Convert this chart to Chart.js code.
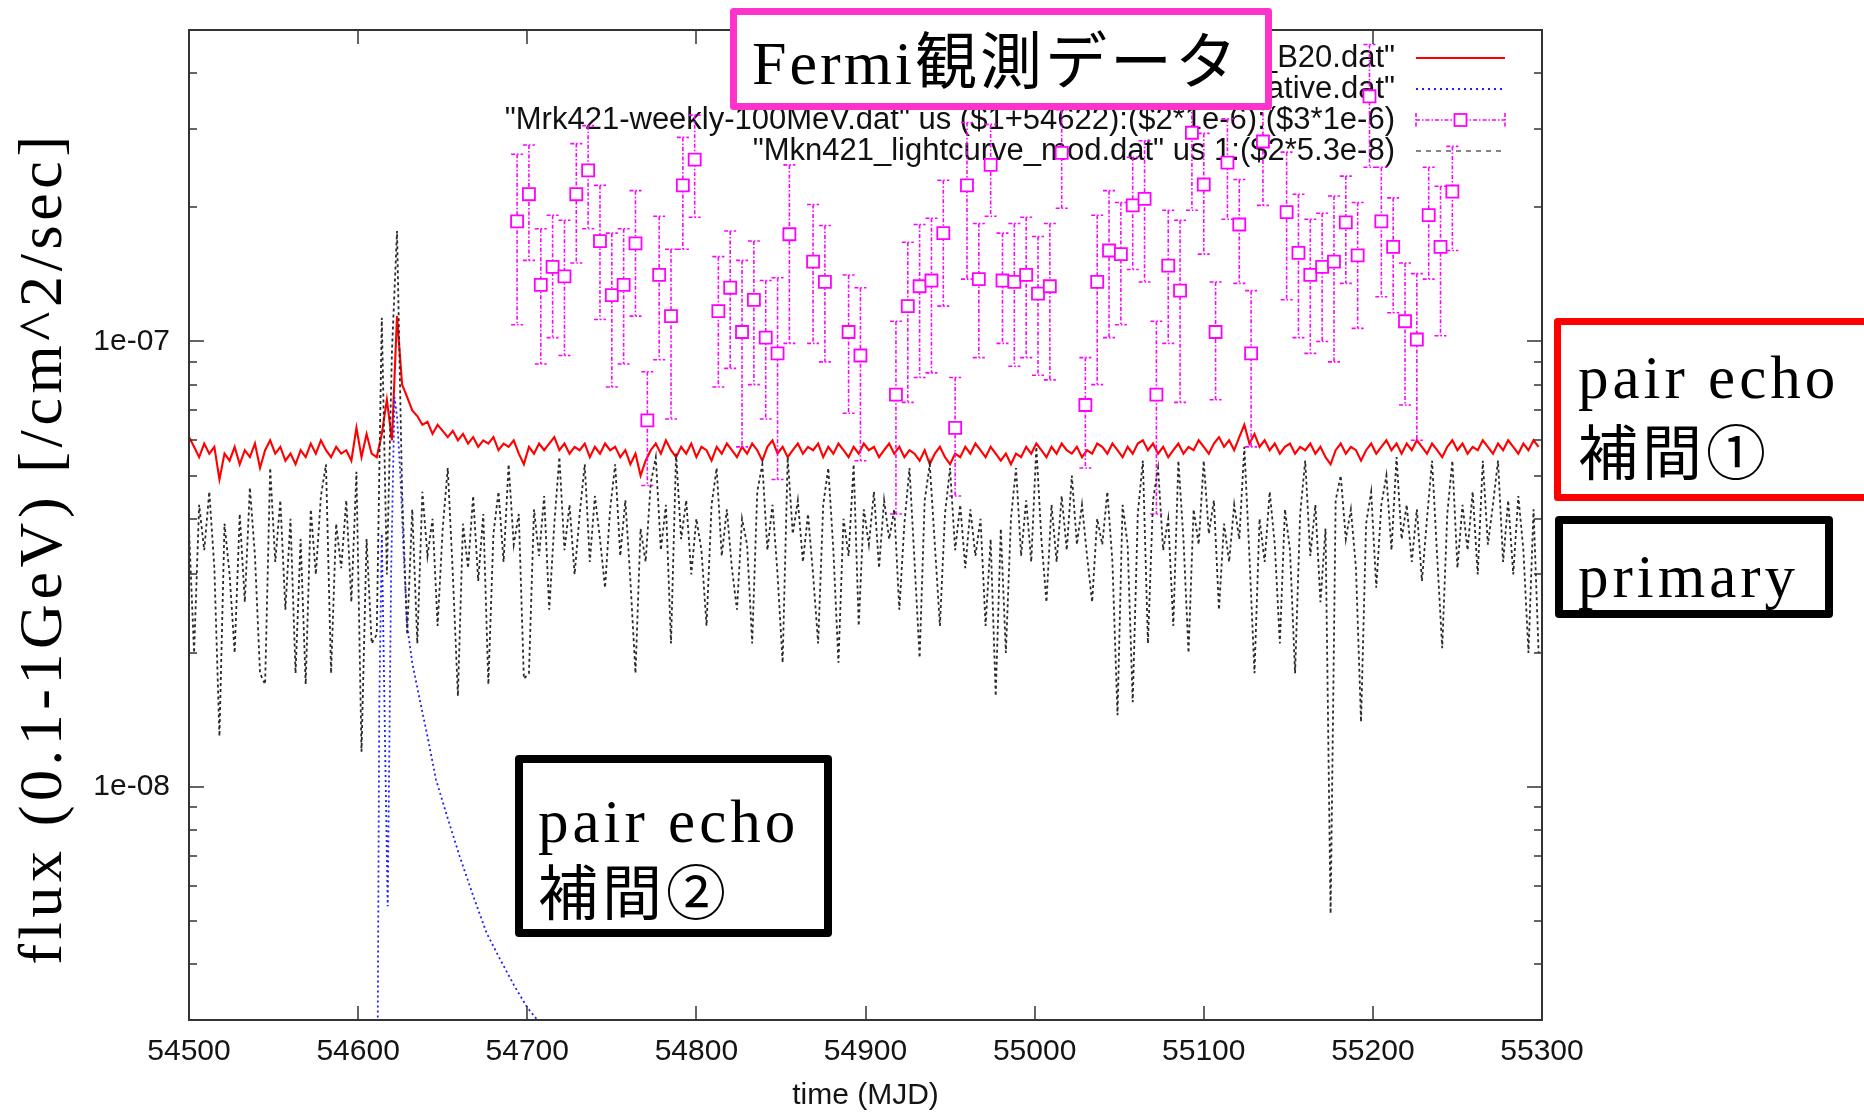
<!DOCTYPE html>
<html>
<head>
<meta charset="utf-8">
<script src="https://cdn.jsdelivr.net/npm/chart.js@4.4.1/dist/chart.umd.min.js"></script>
<style>
  html, body { margin: 0; padding: 0; background: #fff; overflow: hidden; }
  canvas { display: block; }
</style>
</head>
<body>
<canvas id="chart" width="1864" height="1116"></canvas>
<script>
// light curves below are sampled every 3 days from MJD 54500
var dayStart = 54500;
var dayStep = 3;

// Mkn421 light curve (primary), units of 1e-8 /cm^2/sec
var primaryFlux = [
  3.8, 2.0, 4.3, 3.4, 4.6, 3.1, 1.3, 3.9, 3.0, 2.0,
  4.1, 2.6, 4.7, 3.3, 1.8, 1.7, 5.2, 3.2, 4.4, 2.5,
  4.0, 1.8, 3.6, 1.7, 4.2, 3.0, 4.5, 5.3, 1.8, 3.9,
  3.1, 4.4, 2.6, 5.1, 1.2, 3.6, 2.1, 2.2, 11.3, 3.0,
  9.5, 17.7, 4.6, 2.2, 4.2, 2.1, 4.6, 3.3, 4.0, 2.3,
  3.8, 5.2, 3.0, 1.6, 3.9, 3.1, 4.5, 2.9, 4.1, 1.7,
  3.7, 4.6, 3.2, 5.3, 3.5, 4.1, 1.75, 1.8, 4.2, 3.3,
  4.5, 2.5, 3.9, 5.5, 3.4, 4.3, 3.0, 4.1, 5.3, 3.2,
  4.5, 3.6, 2.8, 4.2, 5.3, 3.3, 4.4, 2.9, 1.8, 3.8,
  3.2, 4.8, 5.5, 3.4, 4.3, 2.1, 5.6, 3.6, 4.4, 3.0,
  4.0, 3.4, 2.3, 4.3, 5.2, 3.3, 4.2, 3.1, 2.5, 4.0,
  3.5, 2.1, 4.6, 5.3, 3.4, 4.3, 3.0, 1.9, 5.5, 3.7,
  4.4, 3.2, 4.1, 3.0, 2.1, 4.3, 5.2, 3.4, 1.9, 4.0,
  3.3, 5.3, 2.3, 4.2, 3.5, 4.6, 3.1, 4.4, 3.6, 4.2,
  2.5, 3.9, 5.2, 3.2, 1.95, 4.4, 5.3, 3.5, 2.3, 4.1,
  5.2, 3.4, 4.3, 3.1, 4.2, 3.3, 4.0, 2.3, 3.6, 1.6,
  3.8, 2.0, 4.0, 5.2, 3.3, 4.4, 3.2, 5.8, 3.6, 2.6,
  4.3, 3.2, 4.5, 3.4, 5.0, 3.5, 4.3, 3.3, 2.6, 4.0,
  3.5, 4.6, 3.2, 1.45, 4.3, 3.5, 1.55, 4.1, 5.4, 2.1,
  4.4, 5.2, 3.4, 4.0, 2.3, 5.4, 3.6, 2.0, 4.2, 3.5,
  5.4, 3.7, 4.4, 2.5, 3.9, 3.2, 4.3, 3.6, 5.8, 3.3,
  1.8, 4.0, 3.2, 4.6, 3.5, 2.1, 4.2, 3.4, 1.8, 4.1,
  5.4, 3.3, 4.3, 2.6, 3.8, 0.52, 4.4, 5.0, 3.6, 4.2,
  3.1, 1.4, 3.9, 4.6, 2.8, 4.3, 5.0, 3.4, 5.5, 3.6,
  4.3, 3.2, 4.2, 2.9, 4.0, 5.4, 3.3, 2.05, 4.1, 5.4,
  3.1, 4.3, 3.4, 4.6, 3.0, 5.4, 3.5, 4.3, 5.4, 3.2,
  4.4, 3.0, 4.5, 3.4, 2.0, 4.2, 2.0
];

// pair echo, interpolation 1, units of 1e-8
var echo1Flux = [
  6.1, 5.8, 5.5, 5.9, 5.6, 5.8, 4.9, 5.6, 5.4, 5.8,
  5.3, 5.7, 5.5, 5.9, 5.2, 5.7, 6.0, 5.6, 5.8, 5.4,
  5.6, 5.3, 5.7, 5.5, 5.9, 5.6, 6.0, 5.7, 5.5, 5.8,
  5.6, 5.7, 5.4, 6.4, 5.5, 6.2, 5.6, 5.5, 6.2, 7.4,
  6.0, 11.4, 8.0, 7.5, 7.0, 6.8, 6.5, 6.6, 6.2, 6.5,
  6.3, 6.1, 6.3, 6.0, 6.2, 5.9, 6.1, 5.8, 6.0, 5.9,
  6.1, 5.7, 5.9, 5.8, 6.0, 5.6, 5.3, 5.8, 5.6, 5.9,
  5.7, 5.9, 6.1, 5.7, 5.9, 5.6, 5.8, 5.7, 5.9, 5.5,
  5.8, 5.6, 5.9, 5.7, 5.8, 5.5, 5.7, 5.3, 5.6, 5.0,
  5.4, 5.7, 5.9, 5.6, 6.0, 5.7, 5.5, 5.8, 5.6, 5.9,
  5.5, 5.8, 5.7, 5.4, 5.8, 5.6, 5.9, 5.7, 5.5, 5.8,
  5.6, 5.9, 5.7, 5.4, 5.8, 6.0, 5.6, 5.8, 5.5, 5.7,
  5.9, 5.6, 5.8, 5.7, 5.9, 5.5, 5.8, 5.6, 5.9, 5.7,
  5.5, 5.8, 5.6, 5.9, 5.7, 5.8, 5.5, 5.7, 5.9, 5.6,
  5.8, 5.5, 5.7, 5.6, 5.4, 5.7, 5.3, 5.6, 5.8, 5.5,
  5.3, 5.6, 5.5, 5.8, 5.6, 5.9, 5.7, 5.5, 5.8, 5.6,
  5.4, 5.6, 5.3, 5.6, 5.5, 5.8, 5.6, 5.9, 5.7, 5.5,
  5.8, 5.6, 5.9, 5.7, 5.6, 5.8, 5.5, 5.7, 5.6, 5.9,
  5.8, 5.6, 5.9, 5.7, 5.5, 5.8, 5.6, 5.9, 6.0, 5.7,
  5.9, 5.6, 5.8, 5.5, 5.7, 5.9, 5.6, 5.8, 5.7, 6.0,
  5.8, 5.6, 5.9, 6.1, 5.8, 6.0, 5.7, 6.1, 6.5, 5.9,
  6.2, 5.8, 6.0, 5.7, 5.9, 5.6, 5.8, 5.9, 5.6, 5.8,
  5.7, 5.9, 5.6, 5.8, 5.5, 5.3, 5.7, 5.9, 5.6, 5.8,
  5.7, 5.4, 5.7, 5.9, 5.6, 5.8, 6.0, 5.7, 5.9, 5.6,
  5.9, 5.7, 6.0, 5.8, 5.6, 5.9, 5.7, 5.5, 5.8, 6.0,
  5.7, 5.9, 5.6, 5.8, 5.7, 6.0, 5.8, 5.6, 5.9, 5.7,
  6.0, 5.8, 5.6, 5.9, 5.7, 6.0, 5.8
];

// pair echo, interpolation 2, units of 1e-8
var echo2Days = [54611, 54612.5, 54614, 54616, 54617.5, 54619.5, 54621.5, 54623, 54625, 54627,
                 54629, 54632, 54636, 54641, 54646, 54653, 54660, 54668, 54676, 54684,
                 54692, 54700, 54706, 54712];
var echo2Flux = [0.1, 1.5, 3.7, 1.2, 0.54, 3.0, 7.5, 6.8, 5.0, 3.3,
                 2.3, 1.9, 1.6, 1.3, 1.04, 0.85, 0.70, 0.57, 0.47, 0.41,
                 0.36, 0.32, 0.30, 0.27];

// Fermi weekly fluxes above 100 MeV, units of 1e-7
var fermiDays = [
  54694, 54701, 54708, 54715, 54722, 54729, 54736, 54743, 54750, 54757, 54764, 54771, 54778, 54785, 54792, 54799,
  54813, 54820, 54827, 54834, 54841, 54848, 54855,
  54869, 54876,
  54890, 54897,
  54918, 54925, 54932, 54939, 54946, 54953, 54960, 54967, 54974, 54981, 54988, 54995, 55002, 55009, 55016,
  55030, 55037, 55044, 55051, 55058, 55065, 55072, 55079, 55086, 55093, 55100, 55107, 55114, 55121, 55128, 55135,
  55149, 55156, 55163, 55170, 55177, 55184, 55191, 55198, 55205, 55212, 55219, 55226, 55233, 55240, 55247
];
var fermiFlux = [
  1.86, 2.14, 1.34, 1.47, 1.40, 2.14, 2.42, 1.68, 1.27, 1.34, 1.66, 0.665, 1.41, 1.14, 2.24, 2.56,
  1.17, 1.32, 1.05, 1.24, 1.02, 0.94, 1.74,
  1.51, 1.36,
  1.05, 0.93,
  0.76, 1.20, 1.33, 1.37, 1.75, 0.64, 2.24, 1.38, 2.49, 1.37, 1.36, 1.41, 1.28, 1.33, 2.65,
  0.72, 1.36, 1.60, 1.57, 2.02, 2.09, 0.76, 1.48, 1.30, 2.94, 2.25, 1.05, 2.52, 1.83, 0.94, 2.81,
  1.95, 1.58, 1.41, 1.47, 1.51, 1.85, 1.56, 3.55, 1.86, 1.63, 1.11, 1.01, 1.92, 1.63, 2.17
];
var fermiErr = [
  0.77, 0.62, 0.45, 0.45, 0.47, 0.64, 0.63, 0.56, 0.48, 0.45, 0.52, 0.19, 0.50, 0.47, 0.63, 0.66,
  0.38, 0.45, 0.47, 0.44, 0.35, 0.45, 0.75,
  0.52, 0.46,
  0.36, 0.39,
  0.35, 0.47, 0.50, 0.52, 0.55, 0.19, 0.86, 0.46, 0.58, 0.38, 0.48, 0.49, 0.44, 0.51, 0.66,
  0.20, 0.56, 0.58, 0.48, 0.57, 0.73, 0.35, 0.49, 0.57, 0.97, 0.68, 0.31, 0.64, 0.48, 0.36, 0.79,
  0.71, 0.56, 0.47, 0.47, 0.61, 0.50, 0.49, 1.09, 0.60, 0.47, 0.39, 0.41, 0.54, 0.60, 0.57
];

var xTicks = [54500, 54600, 54700, 54800, 54900, 55000, 55100, 55200, 55300];
var yTicks = [1e-8, 1e-7];
var yTickLabels = ['1e-08', '1e-07'];

var legendLabels = [
  '_B20.dat"',
  'ative.dat"',
  '"Mrk421-weekly-100MeV.dat" us ($1+54622):($2*1e-6):($3*1e-6)',
  '"Mkn421_lightcurve_mod.dat" us 1:($2*5.3e-8)'
];

var tickFont = '30px "Liberation Sans", Arial, sans-serif';
var keyFont = '31px "Liberation Sans", Arial, sans-serif';
var serifFont = '"Liberation Serif", "Noto Sans CJK JP", serif';

function gridSeries(values) {
  var pts = [];
  for (var i = 0; i < values.length; i++) {
    pts.push({x: dayStart + i * dayStep, y: values[i] * 1e-8});
  }
  return pts;
}

var echo2Points = echo2Days.map(function(d, i) { return {x: d, y: echo2Flux[i] * 1e-8}; });
var fermiPoints = fermiDays.map(function(d, i) { return {x: d, y: fermiFlux[i] * 1e-7}; });

// magenta error bars, drawn just before the fermi squares
var errorBars = {
  id: 'errorBars',
  beforeDatasetDraw: function(chart, args) {
    if (args.index !== 2) return;
    var ctx = chart.ctx, xs = chart.scales.x, ys = chart.scales.y;
    ctx.save();
    ctx.strokeStyle = '#ff00ff';
    ctx.lineWidth = 1.6;
    ctx.setLineDash([4, 2, 1.5, 2]);
    ctx.beginPath();
    for (var i = 0; i < fermiDays.length; i++) {
      var px = xs.getPixelForValue(fermiDays[i]);
      var top = ys.getPixelForValue((fermiFlux[i] + fermiErr[i]) * 1e-7);
      var bot = ys.getPixelForValue((fermiFlux[i] - fermiErr[i]) * 1e-7);
      ctx.moveTo(px, top); ctx.lineTo(px, bot);
      ctx.moveTo(px - 6, top); ctx.lineTo(px + 6, top);
      ctx.moveTo(px - 6, bot); ctx.lineTo(px + 6, bot);
    }
    ctx.stroke();
    ctx.restore();
  }
};

// gnuplot style key in the upper right corner
var gnuKey = {
  id: 'gnuKey',
  beforeDatasetsDraw: function(chart) {
    var ctx = chart.ctx;
    var rows = [58, 89, 120, 151];
    var textRight = 1395, s0 = 1416, s1 = 1505;
    ctx.save();
    ctx.font = keyFont;
    ctx.fillStyle = '#111';
    ctx.textAlign = 'right';
    ctx.textBaseline = 'middle';
    legendLabels.forEach(function(t, i) { ctx.fillText(t, textRight, rows[i]); });

    ctx.lineWidth = 2;
    ctx.strokeStyle = '#ff0000';
    ctx.beginPath(); ctx.moveTo(s0, rows[0]); ctx.lineTo(s1, rows[0]); ctx.stroke();

    ctx.strokeStyle = '#1e1eff';
    ctx.setLineDash([2, 4]);
    ctx.beginPath(); ctx.moveTo(s0, rows[1]); ctx.lineTo(s1, rows[1]); ctx.stroke();

    ctx.strokeStyle = '#ff00ff';
    ctx.lineWidth = 1.6;
    ctx.setLineDash([4, 2, 1.5, 2]);
    ctx.beginPath();
    ctx.moveTo(s0, rows[2]); ctx.lineTo(s1, rows[2]);
    ctx.moveTo(s0, rows[2] - 7); ctx.lineTo(s0, rows[2] + 7);
    ctx.moveTo(s1, rows[2] - 7); ctx.lineTo(s1, rows[2] + 7);
    ctx.stroke();
    ctx.setLineDash([]);
    ctx.fillStyle = '#fff';
    ctx.lineWidth = 1.8;
    var mx = (s0 + s1) / 2;
    ctx.fillRect(mx - 6, rows[2] - 6, 12, 12);
    ctx.strokeRect(mx - 6, rows[2] - 6, 12, 12);

    ctx.strokeStyle = '#777';
    ctx.lineWidth = 1.8;
    ctx.setLineDash([5, 5]);
    ctx.beginPath(); ctx.moveTo(s0, rows[3]); ctx.lineTo(s1, rows[3]); ctx.stroke();
    ctx.restore();
  }
};

// border, inward tics, tic labels and axis titles
var gnuFrame = {
  id: 'gnuFrame',
  afterDatasetsDraw: function(chart) {
    var ctx = chart.ctx, a = chart.chartArea, xs = chart.scales.x, ys = chart.scales.y;
    ctx.save();
    ctx.strokeStyle = '#333';
    ctx.lineWidth = 1.5;
    ctx.beginPath();
    xTicks.forEach(function(t) {
      var px = Math.round(xs.getPixelForValue(t));
      ctx.moveTo(px, a.bottom); ctx.lineTo(px, a.bottom - 14);
      ctx.moveTo(px, a.top); ctx.lineTo(px, a.top + 14);
    });
    for (var e = -9; e <= -7; e++) {
      for (var m = 1; m <= 9; m++) {
        var v = m * Math.pow(10, e);
        if (v < ys.min * 1.0001 || v > ys.max * 0.9999) continue;
        var py = Math.round(ys.getPixelForValue(v));
        var len = m === 1 ? 15 : 8;
        ctx.moveTo(a.left, py); ctx.lineTo(a.left + len, py);
        ctx.moveTo(a.right, py); ctx.lineTo(a.right - len, py);
      }
    }
    ctx.stroke();
    ctx.lineWidth = 2;
    ctx.strokeRect(a.left, a.top, a.right - a.left, a.bottom - a.top);

    ctx.fillStyle = '#141414';
    ctx.font = tickFont;
    ctx.textBaseline = 'middle';
    ctx.textAlign = 'center';
    xTicks.forEach(function(t) {
      ctx.fillText(String(t), xs.getPixelForValue(t), a.bottom + 32);
    });
    ctx.textAlign = 'right';
    yTicks.forEach(function(t, i) {
      ctx.fillText(yTickLabels[i], a.left - 19, ys.getPixelForValue(t));
    });
    ctx.textAlign = 'center';
    ctx.fillText('time (MJD)', (a.left + a.right) / 2, 1096);

    ctx.fillStyle = '#000';
    ctx.translate(45, 548);
    ctx.rotate(-Math.PI / 2);
    ctx.font = '62px ' + serifFont;
    ctx.letterSpacing = '4.6px';
    ctx.fillText('flux (0.1-1GeV) [/cm^2/sec]', 0, 0);
    ctx.restore();
  }
};

// framed notes laid over the plot
function noteBox(ctx, l, t, r, b, w, color) {
  ctx.fillStyle = '#fff';
  ctx.fillRect(l, t, r - l, b - t);
  ctx.lineWidth = w;
  ctx.lineJoin = 'round';
  ctx.strokeStyle = color;
  ctx.strokeRect(l + w / 2, t + w / 2, r - l - w, b - t - w);
}

var notes = {
  id: 'notes',
  afterDraw: function(chart) {
    var ctx = chart.ctx;
    ctx.save();
    ctx.textAlign = 'left';
    ctx.textBaseline = 'alphabetic';

    noteBox(ctx, 730, 8, 1272, 110, 7, '#ff33cc');
    ctx.fillStyle = '#000';
    ctx.font = '62px ' + serifFont;
    ctx.letterSpacing = '3px';
    ctx.fillText('Fermi観測データ', 752, 84);

    noteBox(ctx, 1554, 318, 1880, 501, 7, '#ff0000');
    noteBox(ctx, 1555, 516, 1833, 618, 8, '#000');
    noteBox(ctx, 515, 755, 832, 937, 8, '#000');

    ctx.fillStyle = '#000';
    ctx.font = '61px ' + serifFont;
    ctx.letterSpacing = '4px';
    ctx.fillText('pair echo', 1578, 398);
    ctx.fillText('primary', 1578, 597);
    ctx.fillText('pair echo', 538, 842);

    ctx.font = '60px ' + serifFont;
    ctx.letterSpacing = '4px';
    ctx.fillText('補間①', 1578, 475);
    ctx.fillText('補間②', 538, 915);
    ctx.restore();
  }
};

var chart = new Chart(document.getElementById('chart'), {
  type: 'scatter',
  data: {
    datasets: [
      {
        label: legendLabels[0],
        data: gridSeries(echo1Flux),
        showLine: true,
        borderColor: '#ff0000',
        borderWidth: 2.1,
        pointRadius: 0,
        order: 3
      },
      {
        label: legendLabels[1],
        data: echo2Points,
        showLine: true,
        borderColor: '#1e1eff',
        borderWidth: 1.8,
        borderDash: [2, 3],
        pointRadius: 0,
        order: 2
      },
      {
        label: legendLabels[2],
        data: fermiPoints,
        showLine: false,
        pointStyle: 'rect',
        pointRadius: 8.5,
        pointBorderWidth: 1.8,
        pointBorderColor: '#ff00ff',
        pointBackgroundColor: '#fff',
        order: 1
      },
      {
        label: legendLabels[3],
        data: gridSeries(primaryFlux),
        showLine: true,
        borderColor: '#2a2a2a',
        borderWidth: 1.8,
        borderDash: [3, 3],
        pointRadius: 0,
        order: 0
      }
    ]
  },
  options: {
    responsive: false,
    devicePixelRatio: 1,
    animation: false,
    layout: { padding: { left: 189, top: 30, right: 322, bottom: 96 } },
    scales: {
      x: { type: 'linear', min: 54500, max: 55300, display: false },
      y: { type: 'logarithmic', min: 3e-9, max: 5e-7, display: false }
    },
    plugins: {
      legend: { display: false },
      tooltip: { enabled: false }
    }
  },
  plugins: [errorBars, gnuKey, gnuFrame, notes]
});
</script>
</body>
</html>
